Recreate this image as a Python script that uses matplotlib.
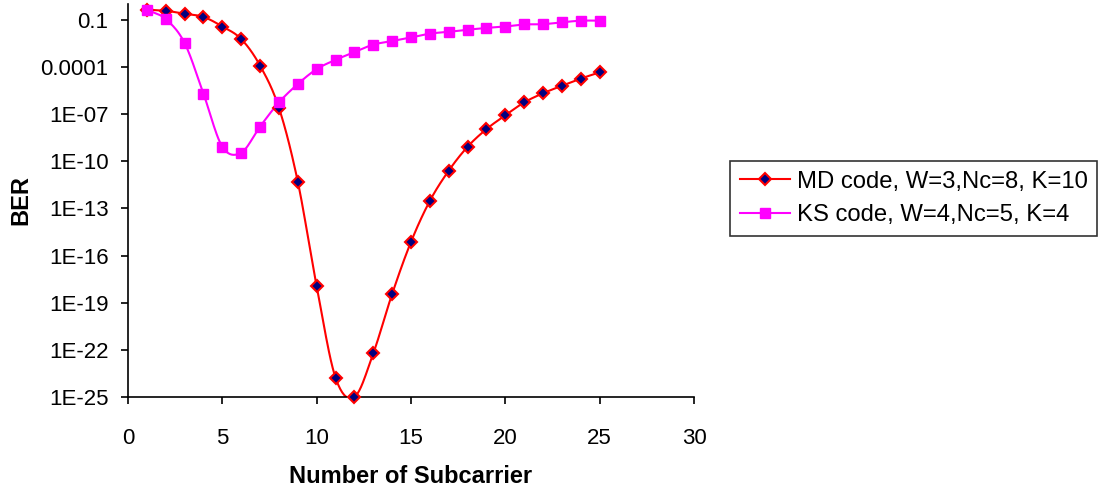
import numpy as np
import matplotlib.pyplot as plt

plt.rcParams['font.family'] = ['Liberation Sans', 'DejaVu Sans']

subcarriers = list(range(1, 26))

md_ber = [0.44, 0.37, 0.24, 0.15, 0.037, 5.9e-3, 1.2e-4, 2.5e-7, 5.0e-12,
          1.1e-18, 1.7e-24, 1.0e-25, 6.0e-23, 3.6e-19, 7.4e-16, 3.0e-13,
          2.5e-11, 8.3e-10, 1.1e-8, 8.3e-8, 5.5e-7, 2.1e-6, 6.3e-6,
          1.8e-5, 4.5e-5]

ks_ber = [0.44, 0.11, 3.3e-3, 1.95e-6, 8.3e-10, 3.5e-10, 1.6e-8, 5.5e-7,
          8.1e-6, 7.2e-5, 2.8e-4, 8.7e-4, 2.6e-3, 4.4e-3, 7.4e-3, 1.3e-2,
          1.7e-2, 2.3e-2, 3.0e-2, 3.7e-2, 5.0e-2, 5.2e-2, 6.8e-2, 8.7e-2,
          8.7e-2]

md_label = "MD code, W=3,Nc=8, K=10"
ks_label = "KS code, W=4,Nc=5, K=4"
y_ticks = [1e-25, 1e-22, 1e-19, 1e-16, 1e-13, 1e-10, 1e-7, 1e-4, 1e-1]
y_ticklabels = ["1E-25", "1E-22", "1E-19", "1E-16", "1E-13", "1E-10",
                "1E-07", "0.0001", "0.1"]


def smooth(x, y, n=20):
    # Catmull-Rom curve through the points in (x, log y) space, like Excel's smoothed line
    x = np.asarray(x, float)
    ly = np.log10(np.asarray(y, float))
    px = np.concatenate([[2 * x[0] - x[1]], x, [2 * x[-1] - x[-2]]])
    py = np.concatenate([[2 * ly[0] - ly[1]], ly, [2 * ly[-1] - ly[-2]]])
    xs, ys = [], []
    t = np.linspace(0, 1, n, endpoint=False)
    for i in range(1, len(px) - 2):
        for arr, out in ((px, xs), (py, ys)):
            p0, p1, p2, p3 = arr[i - 1], arr[i], arr[i + 1], arr[i + 2]
            out.extend(0.5 * (2 * p1 + (-p0 + p2) * t
                              + (2 * p0 - 5 * p1 + 4 * p2 - p3) * t ** 2
                              + (-p0 + 3 * p1 - 3 * p2 + p3) * t ** 3))
    xs.append(x[-1])
    ys.append(ly[-1])
    return np.array(xs), 10 ** np.array(ys)


fig = plt.figure(figsize=(11.01, 4.90), dpi=100)
ax = fig.add_axes([128 / 1101, 1 - 397 / 490, 566 / 1101, 393 / 490])

sx, sy = smooth(subcarriers, md_ber)
ax.plot(sx, sy, color='red', lw=1.5)
sx, sy = smooth(subcarriers, ks_ber)
ax.plot(sx, sy, color='magenta', lw=1.5)

ax.plot(subcarriers, md_ber, ls='none', marker='D', ms=6.5,
        mfc='#000080', mec='red', mew=1.5, clip_on=False, zorder=3)
ax.plot(subcarriers, ks_ber, ls='none', marker='s', ms=7.7,
        mfc='magenta', mec='magenta', clip_on=False, zorder=4)

ax.set_yscale('log')
ax.set_ylim(1e-25, 1)
ax.set_xlim(0, 30)
ax.set_xticks(range(0, 31, 5))
ax.set_yticks(y_ticks)
ax.set_yticklabels(y_ticklabels)
ax.yaxis.set_minor_locator(plt.NullLocator())

for s in ['top', 'right']:
    ax.spines[s].set_visible(False)
for s in ['left', 'bottom']:
    ax.spines[s].set_linewidth(1.2)
ax.tick_params(axis='both', direction='out', length=5, width=1.2, labelsize=16)
ax.tick_params(axis='x', pad=17)
ax.tick_params(axis='y', pad=9)

ax.set_xlabel("Number of Subcarrier", fontsize=17, fontweight='bold', labelpad=12)
ax.set_ylabel("BER", fontsize=17, fontweight='bold', labelpad=6)

md_handle = plt.Line2D([], [], color='red', lw=1.5, marker='D', ms=6.5,
                       mfc='#000080', mec='red', mew=1.5)
ks_handle = plt.Line2D([], [], color='magenta', lw=1.5, marker='s', ms=7.5)
leg = fig.legend([md_handle, ks_handle], [md_label, ks_label],
                 loc='upper left', bbox_to_anchor=(730 / 1101, 1 - 161 / 490),
                 borderaxespad=0, frameon=True, fancybox=False, fontsize=17.2,
                 handlelength=2.1, handletextpad=0.3, borderpad=0.4,
                 labelspacing=0.5)
leg.get_frame().set_edgecolor('black')
leg.get_frame().set_linewidth(1.2)

fig.savefig("out.png", dpi=100)
